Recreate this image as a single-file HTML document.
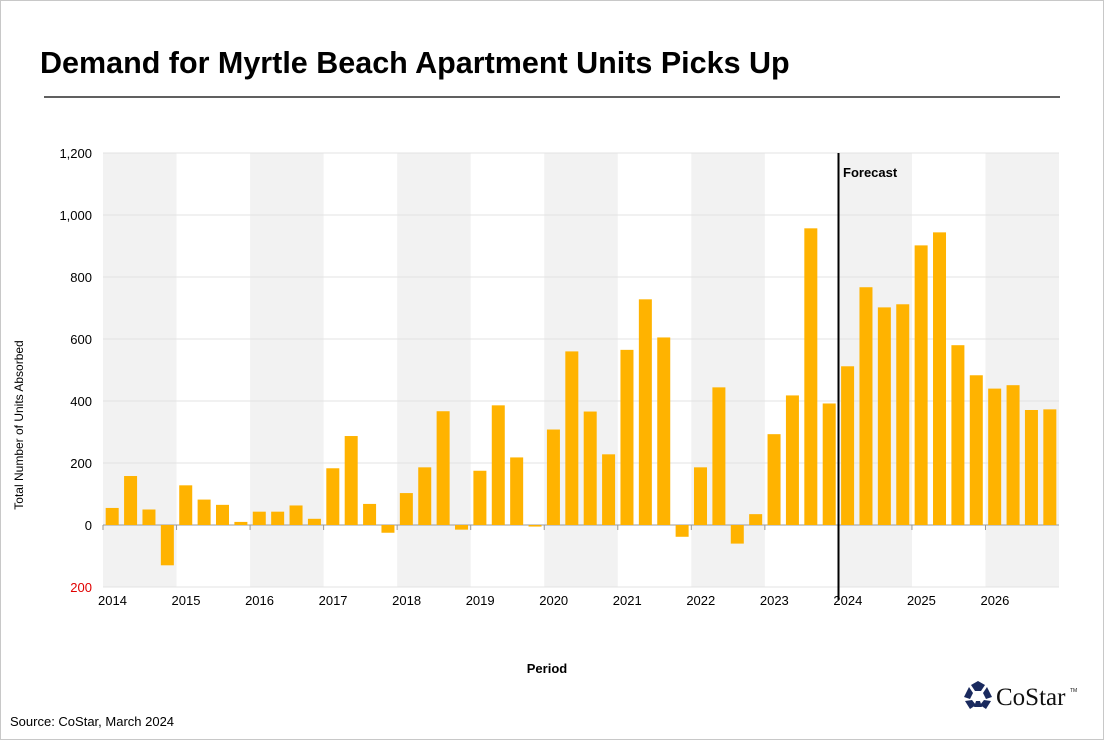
<!DOCTYPE html>
<html><head><meta charset="utf-8"><style>
html,body{margin:0;padding:0;background:#fff}
body{width:1104px;height:740px;overflow:hidden;font-family:"Liberation Sans",sans-serif}
</style></head><body>
<svg id="c" width="1104" height="740" xmlns="http://www.w3.org/2000/svg" font-family="Liberation Sans, sans-serif">
<rect x="0.5" y="0.5" width="1103" height="739" fill="#fff" stroke="#c8c8c8"/>
<text x="40" y="73" font-size="30.5" font-weight="bold" fill="#000">Demand for Myrtle Beach Apartment Units Picks Up</text>
<line x1="44" y1="97" x2="1060" y2="97" stroke="#000" stroke-width="1.2"/>
<g id="bands"></g>
<g id="grid"></g>
<g id="bars"></g>
<line x1="838.5" y1="153" x2="838.5" y2="600" stroke="#000" stroke-width="2"/>
<text x="843" y="177" font-size="13" font-weight="bold">Forecast</text>
<g id="labels" font-size="13" fill="#000"></g>
<text transform="translate(23,425) rotate(-90)" font-size="12" text-anchor="middle">Total Number of Units Absorbed</text>
<text x="547" y="673" font-size="13" font-weight="bold" text-anchor="middle">Period</text>
<text x="10" y="726" font-size="13">Source: CoStar, March 2024</text>
<g transform="translate(978,695)" fill="#1a2a5e">
<polygon points="0,-14 7,-10 3,-4 -3,-4 -7,-10"/>
<polygon points="9,-8 14,2 8,4 5,-2" />
<polygon points="13,6 8,14 2,10 6,5"/>
<polygon points="-13,6 -8,14 -2,10 -6,5"/>
<polygon points="-9,-8 -14,2 -8,4 -5,-2"/>
<polygon points="-4,12 4,12 2,6 -2,6"/>
</g>
<text x="996" y="705" font-family="Liberation Serif, serif" font-size="25" fill="#111">CoStar</text>
<text x="1070" y="692" font-size="5" fill="#111">TM</text>
</svg>
<script>
var y0=525,k=0.31,x0=103,yw=73.54,ns="http://www.w3.org/2000/svg";
function el(g,t,a,txt){var e=document.createElementNS(ns,t);for(var i in a)e.setAttribute(i,a[i]);if(txt)e.textContent=txt;document.getElementById(g).appendChild(e);}
for(var i=0;i<13;i+=2)el("bands","rect",{x:x0+i*yw,y:153,width:yw,height:434,fill:"#f2f2f2"});
for(var v=-200;v<=1200;v+=200){var y=y0-v*k;el("grid","line",{x1:x0,x2:1059,y1:y,y2:y,stroke:v==0?"#999":"#e3e3e3","stroke-width":1});
el("labels","text",{x:92,y:y+5,"text-anchor":"end",fill:v<0?"#e00000":"#000"},v<0?"200":v.toLocaleString("en-US"));}
for(var i=0;i<13;i++){var xx=x0+i*yw;el("grid","line",{x1:xx,x2:xx,y1:525,y2:530,stroke:"#999"});el("labels","text",{x:xx-5,y:605},String(2014+i));}
var d=[55,158,50,-130,128,82,65,10,43,43,63,20,183,287,68,-25,103,186,367,-15,175,386,218,-5,308,560,366,228,565,728,605,-38,186,444,-60,35,293,418,957,392,512,767,702,712,902,944,580,483,440,451,371,373];
var q=yw/4;
d.forEach(function(v,i){var cx=x0+q*(i+0.5),h=Math.abs(v)*k;el("bars","rect",{x:cx-6.5,y:v>=0?y0-h:y0,width:13,height:h,fill:"#ffb300"});});
</script>
</body></html>
